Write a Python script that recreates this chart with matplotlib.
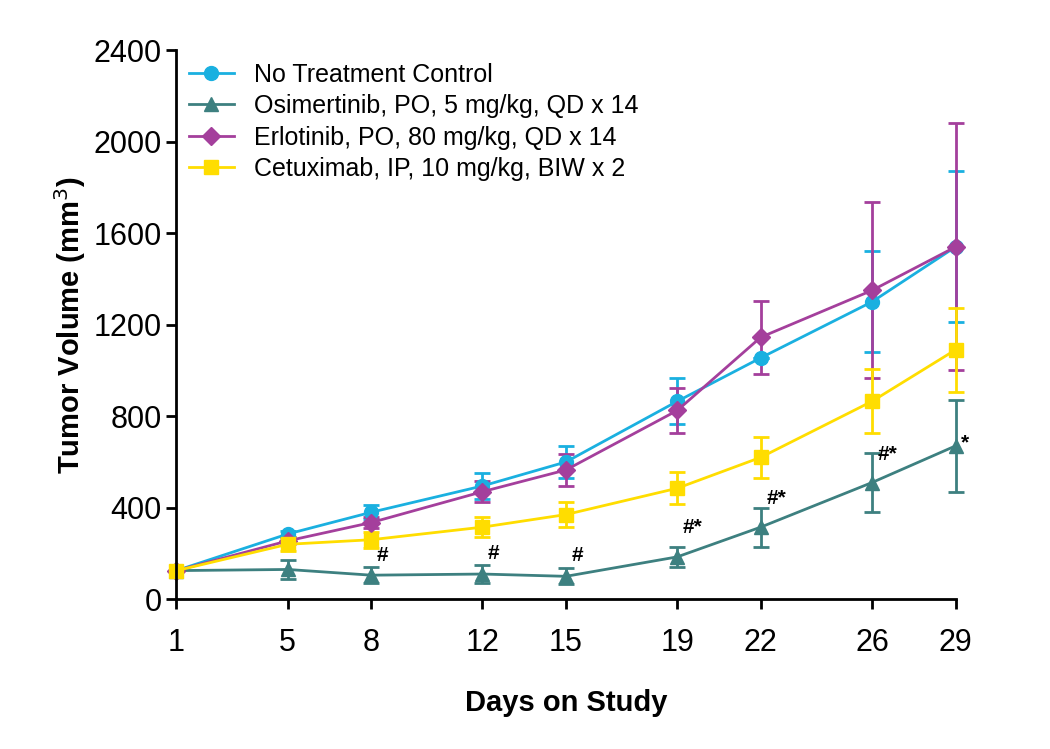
import matplotlib.pyplot as plt
from matplotlib.lines import Line2D

days = [1, 5, 8, 12, 15, 19, 22, 26, 29]
ctrl = [125, 285, 380, 495, 600, 865, 1055, 1300, 1540]
ctrl_err = [0, 15, 30, 55, 70, 100, 0, 220, 330]
osim = [125, 130, 105, 110, 100, 185, 315, 510, 670]
osim_err = [0, 40, 35, 40, 35, 45, 85, 130, 200]
erlo = [125, 255, 335, 470, 565, 825, 1145, 1350, 1540]
erlo_err = [0, 15, 25, 45, 70, 100, 160, 385, 540]
cetu = [125, 240, 260, 315, 370, 485, 620, 865, 1090]
cetu_err = [0, 30, 35, 45, 55, 70, 90, 140, 185]
marks = {8: '#', 12: '#', 15: '#', 19: '#*', 22: '#*', 26: '#*', 29: '*'}
mark_y = {8: 150, 12: 160, 15: 150, 19: 270, 22: 400, 26: 590, 29: 640}

plt.rcParams['font.family'] = ['Liberation Sans', 'DejaVu Sans']
fig = plt.figure(figsize=(10.5, 7.49), dpi=100)
ax = fig.add_axes([0.168, 0.2, 0.742, 0.733])

series = [
    (ctrl, ctrl_err, '#1ab0e0', 'o', 'No Treatment Control'),
    (osim, osim_err, '#3d8080', '^', 'Osimertinib, PO, 5 mg/kg, QD x 14'),
    (erlo, erlo_err, '#a43f9c', 'D', 'Erlotinib, PO, 80 mg/kg, QD x 14'),
    (cetu, cetu_err, '#ffdd00', 's', 'Cetuximab, IP, 10 mg/kg, BIW x 2'),
]
handles = []
for y, e, c, m, lab in series:
    ms = 9 if m == 'D' else 10
    eb = ax.errorbar(days, y, yerr=e, color=c, marker=m, markersize=ms,
                     lw=2, elinewidth=2, capsize=6, capthick=2)
    for art in eb.get_children():
        art.set_clip_on(False)
    handles.append(Line2D([], [], color=c, marker=m, markersize=ms, lw=2, label=lab))

for d, s in marks.items():
    ax.text(d + 0.2, mark_y[d], s, fontsize=15, fontweight='bold',
            ha='left', va='bottom')

ax.set_xlim(1, 29)
ax.set_ylim(0, 2400)
ax.set_xticks(days)
ax.set_yticks(range(0, 2401, 400))
ax.tick_params(labelsize=22, width=2, length=7)
ax.tick_params(axis='x', pad=14)
ax.set_xlabel('Days on Study', fontsize=21, fontweight='bold', labelpad=22)
ax.set_ylabel('Tumor Volume (mm$^3$)', fontsize=21, fontweight='bold')
for s in ['top', 'right']:
    ax.spines[s].set_visible(False)
for s in ['left', 'bottom']:
    ax.spines[s].set_linewidth(2)
ax.legend(handles=handles, loc='upper left', frameon=False, fontsize=18,
          handlelength=1.8, borderaxespad=0.1, labelspacing=0.3)
fig.savefig('out.png')
